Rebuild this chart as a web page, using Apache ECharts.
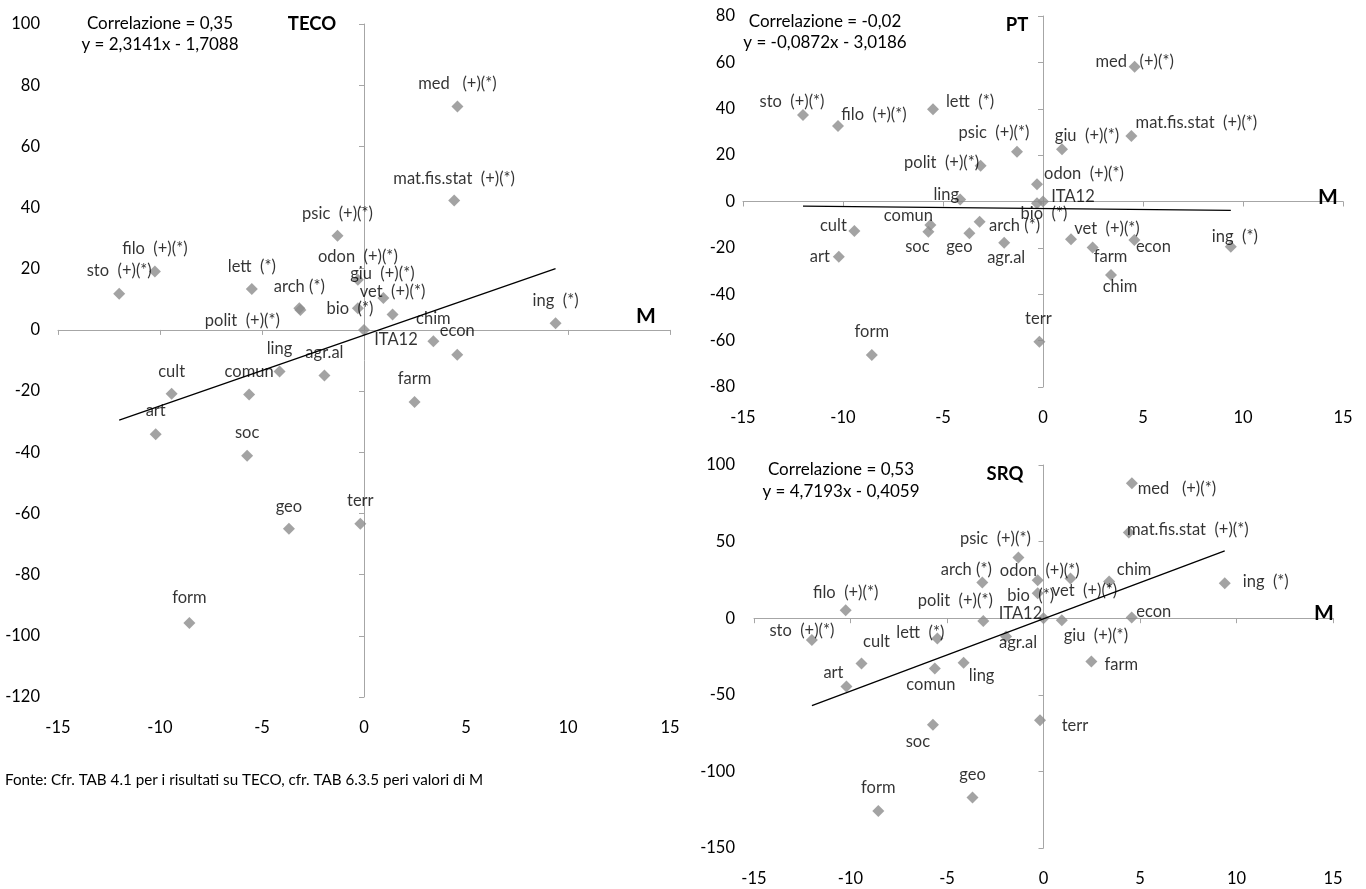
<!DOCTYPE html>
<html><head><meta charset="utf-8">
<script src="https://cdn.jsdelivr.net/npm/echarts@6/dist/echarts.min.js"></script>
<style>html,body{margin:0;padding:0;background:#fff}#c{width:1366px;height:889px}</style>
</head><body><div id="c"></div>
<script>
// ---------- DATA ----------
const categories = ['sto','filo','lett','arch','polit','psic','med','mat.fis.stat','odon','giu','vet','bio','ITA12','chim','econ','farm','terr','ing','ling','agr.al','comun','cult','art','soc','geo','form'];
const pointLabels = ['sto  (+)(*)','filo  (+)(*)','lett  (*)','arch (*)','polit  (+)(*)','psic  (+)(*)','med   (+)(*)','mat.fis.stat  (+)(*)','odon  (+)(*)','giu  (+)(*)','vet  (+)(*)','bio  (*)','ITA12','chim','econ','farm','terr','ing  (*)','ling','agr.al','comun','cult','art','soc','geo','form'];
const M    = [-12.0,-10.25,-5.5,-3.17,-3.12,-1.3,4.58,4.42,-0.3,0.95,1.4,-0.3,0,3.4,4.57,2.48,-0.18,9.39,-4.14,-1.94,-5.63,-9.43,-10.21,-5.73,-3.68,-8.56];
const TECO = [11.8,19.1,13.4,7.1,6.5,30.8,73.0,42.3,16.4,10.4,5.0,7.1,0,-3.7,-8.1,-23.6,-63.4,2.2,-13.6,-14.9,-21.1,-20.9,-34.1,-41.1,-65.0,-95.8];
const PT   = [37.3,32.6,39.8,-8.7,15.4,21.5,58.1,28.2,7.4,22.5,-16.3,-0.8,0,-31.7,-16.6,-19.8,-60.5,-19.5,0.9,-17.8,-10.1,-12.7,-23.8,-13.0,-13.7,-66.2];
const SRQ  = [-14.2,5.2,-13.3,23.3,-1.8,39.6,88.1,55.9,24.8,-1.3,25.9,16.3,0,24.0,0.5,-28.3,-66.6,22.8,-29.0,-12.0,-32.8,-29.6,-44.6,-69.6,-117,-125.8];
const fitTECO = [2.3141, -1.7088];
const fitPT   = [-0.0872, -3.0186];
const fitSRQ  = [4.7193, -0.4059];
const corrTexts = ['Correlazione = 0,35','Correlazione = -0,02','Correlazione = 0,53'];
const eqTexts   = ['y = 2,3141x - 1,7088','y = -0,0872x - 3,0186','y = 4,7193x - 0,4059'];
const chartNames = ['TECO','PT','SRQ'];
const xRange = [-15, 15, 5];
const yRanges = [[-120,100,20],[-80,80,20],[-150,100,50]];
const footnote = 'Fonte: Cfr. TAB 4.1 per i risultati su TECO, cfr. TAB 6.3.5 peri valori di M';

// ---------- LABEL PLACEMENT (style) ----------
const offTECO = [[0,-23],[0,-23],[0,-22],[0,-22],[-58,11],[0,-22],[0,-23],[0,-22],[0,-23],[-1,-24],[0,-23],[-8,0],[32,10],[0,-23],[0,-24],[0,-23],[0,-23],[0,-23],[0,-23],[0,-23],[0,-23],[0,-22],[0,-24],[0,-23],[0,-22],[0,-25]];
const offPT = [[-11,-13],[36,-11],[37,-8],[35,4],[-39,-3],[-23,-19],[0,-5],[65,-13],[47,-11],[25,-14],[36,-11],[7,10],[30,-5],[9,12],[19,7],[18,9],[-1,-23],[4,-10],[-14,-5],[2,15],[-22,-9],[-21,-5],[-19,0],[-11,15],[-10,13],[0,-23]];
const offSRQ = [[-10,-9],[0,-18],[-17,-6],[-16,-13],[-28,-20],[-23,-19],[45,5],[59,-3],[2,-10],[34,15],[14,12],[-7,2],[-23,-5],[25,-12],[22,-6],[30,3],[35,5],[41,-2],[18,13],[12,6],[-4,16],[15,-22],[-13,-14],[-15,17],[0,-23],[0,-23]];

const FONT = 'Lato';
const grids = [
  {left:58, top:24, width:612, height:673},
  {left:743, top:16, width:600, height:371},
  {left:754, top:465, width:579, height:383}
];
const yLabelMargin = [18, 8, 19];
const series = [[TECO, fitTECO, offTECO],[PT, fitPT, offPT],[SRQ, fitSRQ, offSRQ]];

const xAxes = [], yAxes = [], allSeries = [];
const axisCol = '#a6a6a6';
grids.forEach((g, i) => {
  const yr = yRanges[i];
  xAxes.push({type:'value', gridIndex:i, min:xRange[0], max:xRange[1], interval:xRange[2],
    axisLine:{show:true, onZero:true, onZeroAxisIndex:2*i, lineStyle:{color:axisCol, width:1}},
    axisTick:{show:true, length:5, lineStyle:{color:axisCol}}, axisLabel:{show:false}, splitLine:{show:false}});
  xAxes.push({type:'value', gridIndex:i, min:xRange[0], max:xRange[1], interval:xRange[2], position:'bottom',
    axisLine:{show:false, onZero:false}, axisTick:{show:false},
    axisLabel:{show:true, margin:22, color:'#000', fontSize:16.5, fontFamily:FONT}, splitLine:{show:false}});
  yAxes.push({type:'value', gridIndex:i, min:yr[0], max:yr[1], interval:yr[2], position:'left',
    axisLine:{show:true, onZero:true, onZeroAxisIndex:2*i, lineStyle:{color:axisCol, width:1}},
    axisTick:{show:true, length:5, lineStyle:{color:axisCol}}, axisLabel:{show:false}, splitLine:{show:false}});
  yAxes.push({type:'value', gridIndex:i, min:yr[0], max:yr[1], interval:yr[2], position:'left',
    axisLine:{show:false, onZero:false}, axisTick:{show:false},
    axisLabel:{show:true, margin:yLabelMargin[i], color:'#000', fontSize:16.5, fontFamily:FONT}, splitLine:{show:false}});

  const [vals, fit, offs] = series[i];
  const data = categories.map((c, j) => ({
    name: c, value: [M[j], vals[j]],
    label: {offset: offs[j]}
  }));
  allSeries.push({type:'scatter', xAxisIndex:2*i, yAxisIndex:2*i, symbol:'diamond', symbolSize:12,
    itemStyle:{color:'#8c8c8c'}, data: data, z:3,
    label:{show:true, position:'inside', formatter: p => pointLabels[p.dataIndex],
      color:'#000', fontSize:16.5, fontFamily:FONT, align:'center', verticalAlign:'middle'},
    emphasis:{disabled:true}});
  const xmin = Math.min(...M), xmax = Math.max(...M);
  allSeries.push({type:'line', xAxisIndex:2*i, yAxisIndex:2*i, symbol:'none', silent:true, z:4,
    lineStyle:{color:'#000', width:1.3},
    data:[[xmin, fit[0]*xmin+fit[1]], [xmax, fit[0]*xmax+fit[1]]]});
});

const txt = (x, y, text, size, bold, align) => ({type:'text', x:x, y:y, z:10,
  style:{text:text, fill:'#000', font:(bold?'bold ':'')+size+'px '+FONT, align:align||'center', verticalAlign:'middle'}});

const graphic = [
  txt(160,24,corrTexts[0],17), txt(160,45,eqTexts[0],17), txt(312,24,chartNames[0],18.5,true), txt(646,316,'M',21,true),
  txt(825,22,corrTexts[1],17), txt(825,43,eqTexts[1],17), txt(1017,25,chartNames[1],18.5,true), txt(1328,197,'M',21,true),
  txt(841,470,corrTexts[2],17), txt(841,492,eqTexts[2],17), txt(1005,474,chartNames[2],18.5,true), txt(1324,613,'M',21,true),
  txt(5,780,footnote,15.2,false,'left')
];

const chart = echarts.init(document.getElementById('c'));
chart.setOption({animation:false, backgroundColor:'#fff', grid:grids, xAxis:xAxes, yAxis:yAxes, series:allSeries, graphic:graphic});
</script>
</body></html>
